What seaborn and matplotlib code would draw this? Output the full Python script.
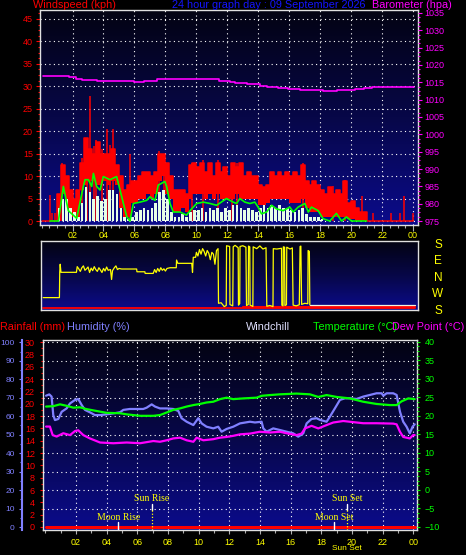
import numpy as np
import matplotlib
matplotlib.use("Agg")
import matplotlib.pyplot as plt
import matplotlib.transforms as mtransforms
from matplotlib.colors import LinearSegmentedColormap
from matplotlib.ticker import MultipleLocator
import seaborn as sns

# ================================================================
# Time grid / tick labels
hour_ticks = [2, 4, 6, 8, 10, 12, 14, 16, 18, 20, 22, 24]
hour_labels = ["02", "04", "06", "08", "10", "12", "14", "16", "18", "20", "22", "00"]
slot_start = np.arange(0, 24, 0.25)  # 15 minute slots

# Wind gust band (kph), upper and lower edge per 15 minute slot
gust_hi = [
    0, 0, 0, 0, 6, 12.5, 10, 7,
    5, 7, 13, 18.5, 16, 15, 17.5, 15,
    15, 15, 16, 12.5, 10, 7, 8, 9,
    9, 10, 11, 11, 10, 11, 15, 15,
    13, 10, 7, 7, 7, 6, 12.5, 13,
    12, 13, 11, 13, 10, 13, 11, 12,
    10, 13, 12, 13, 10, 11, 10, 10,
    8, 7.5, 8, 11, 10, 11, 10, 11,
    10, 11, 10, 12.5, 9, 8, 9, 8,
    7, 6, 7.5, 6, 7, 6, 9, 4,
    4.5, 3, 2, 2, 0, 0, 0, 0,
    0, 0, 0, 0, 0, 0, 0, 0,
]
gust_lo = [
    0, 0, 0, 0, 0, 6, 3, 1,
    0.5, 1, 7, 8, 9, 9, 8, 8,
    9, 8, 9, 8, 3, 1, 1, 4,
    4, 5, 5, 6, 5, 6, 9, 10,
    6, 5, 2, 2, 3, 2, 5, 6,
    6, 6, 5, 6, 5, 6, 5, 5,
    5, 5, 6, 5, 5, 5, 5, 5,
    3.5, 3.5, 4, 5, 5, 5, 5, 5,
    4, 4, 4, 5, 3, 2, 2, 2,
    1, 1, 1, 1, 1, 1, 1, 0.5,
    0.5, 0, 0, 0, 0, 0, 0, 0,
    0, 0, 0, 0, 0, 0, 0, 0,
]
spike_hours = [0.55, 0.70, 0.85, 1.30, 2.60, 2.95, 3.16, 3.40, 3.55, 3.90, 4.20, 4.40, 4.62,
               5.70, 7.60, 7.90, 9.70, 10.40, 11.40, 12.30, 12.60, 16.90, 18.80, 19.60,
               20.71, 21.42, 22.60, 23.15, 23.40, 23.97]
spike_kph = [5.7, 1.7, 1.7, 13, 14, 18.4, 27.8, 16.6, 18, 16, 20.5, 17, 20.5,
             15, 15.5, 15, 13, 13.5, 13.5, 13, 13, 12.9, 7.7, 9.2,
             5.6, 1.7, 1.7, 1.7, 5.5, 1.7]

# Wind speed (kph) per 15 minute slot
speed_hi = [
    0, 0, 0, 0, 3, 5, 5, 3,
    2, 1, 4, 7.5, 6.5, 5, 5.5, 4.5,
    5, 7, 7, 6, 3, 1, 0.5, 1,
    2, 2.5, 3, 2.5, 3, 4, 6.5, 7,
    5, 2, 1, 1, 1.5, 1, 2, 2.5,
    2.5, 3, 2, 3, 2.5, 3, 2, 3,
    2.5, 3.5, 3.5, 3, 2.5, 3, 2.5, 2,
    3, 3.5, 3, 3.5, 3, 3.5, 3, 3,
    2.5, 2, 2.5, 3, 1.5, 1, 1, 1,
    0.5, 0, 0, 0, 0, 0, 0, 0,
    0, 0, 0, 0, 0, 0, 0, 0,
    0, 0, 0, 0, 0, 0, 0, 0,
]

# Average wind (kph)
avg_hours = [0.55, 1.09, 1.41, 1.73, 2.27, 2.70, 2.81, 3.02, 3.24, 3.35, 3.56, 3.78, 3.99,
             4.42, 4.85, 5.18, 5.50, 5.71, 5.93, 6.36, 6.79, 7.00, 7.33, 7.54, 7.97, 8.08,
             8.30, 8.51, 8.94, 9.37, 9.59, 10.02, 10.45, 10.88, 11.31, 11.95, 12.38, 12.60,
             12.81, 13.14, 13.46, 13.78, 13.99, 14.21, 14.54, 14.86, 15.18, 15.61, 16.04,
             16.26, 16.58, 17.01, 17.23, 17.44, 17.87, 18.19, 18.62, 19.05, 19.38, 19.70,
             20.02, 20.99]
avg_kph = [0, 0, 7.7, 2.3, 0.6, 7.7, 9.2, 9.2, 7.7, 10.6, 7.7, 6.9, 9.9,
           9.2, 9.9, 5.4, 1.0, 0, 3.9, 4.2, 4.6, 5.4, 4.6, 8.0, 8.8, 7.7,
           3.9, 2.0, 2.0, 1.3, 2.3, 3.9, 4.2, 3.9, 3.5, 5.0, 4.2, 3.9,
           5.0, 4.2, 3.9, 4.2, 3.1, 1.6, 2.0, 3.5, 2.7, 2.3, 3.1,
           2.0, 3.1, 3.9, 2.0, 3.1, 2.3, 0.5, 0, 1.7, 0, 0.9,
           0, 0]

# Barometer (hPa), value from each change point
baro_hours = [0.12, 1.76, 2.20, 2.62, 3.59, 5.96, 6.60, 7.46, 11.44, 12.20, 12.50, 13.27,
              14.13, 14.56, 15.30, 15.90, 16.71, 18.20, 19.07, 20.26, 20.80, 21.33, 22.08, 24.05]
baro_hpa = [1016.7, 1016.4, 1016.05, 1015.75, 1015.45, 1015.2, 1015.45, 1015.85, 1015.5,
            1015.1, 1014.8, 1014.5, 1014.05, 1013.55, 1013.25, 1012.95, 1012.7, 1012.5,
            1012.7, 1013.05, 1013.35, 1013.55, 1013.75, 1013.75]

# Wind direction (degrees)
dir_hours = [0.10, 1.15, 1.17, 1.20, 1.25, 2.25, 2.30, 2.40, 2.50, 2.60,
             2.70, 2.80, 2.90, 3.00, 3.10, 3.20, 3.30, 3.40, 3.50, 3.60,
             3.70, 3.80, 3.90, 4.00, 4.10, 4.20, 4.30, 4.45, 4.52, 4.58,
             4.70, 4.80, 4.90, 5.00, 5.17, 6.14, 6.16, 6.67, 6.69, 7.21,
             7.30, 7.40, 7.50, 7.60, 7.70, 7.80, 7.90, 8.00, 8.10, 8.30,
             8.70, 8.72, 8.80, 9.70, 9.75, 9.80, 9.95, 10.00, 10.10, 10.20,
             10.30, 10.40, 10.50, 10.60, 10.70, 10.80, 10.90, 11.00, 11.10, 11.20,
             11.30, 11.40, 11.43, 11.60, 11.80, 11.93, 11.95, 12.15, 12.17, 12.35,
             12.38, 12.50, 12.70, 12.72, 12.80, 12.82, 13.00, 13.20, 13.24, 13.35,
             13.37, 13.45, 13.47, 13.65, 13.67, 13.90, 14.10, 14.30, 14.50, 14.55,
             14.75, 14.95, 14.97, 15.20, 15.50, 15.52, 15.60, 15.62, 15.70, 15.72,
             15.82, 15.84, 16.05, 16.20, 16.25, 16.45, 16.65, 16.70, 16.75, 16.80,
             17.00, 17.20, 17.22, 17.30, 17.33]
dir_deg = [253, 253, 31, 75, 31, 31, 62, 50, 36, 56,
           66, 42, 50, 60, 30, 54, 40, 62, 46, 36,
           56, 44, 30, 52, 38, 60, 42, 46, 352, 40,
           56, 66, 46, 52, 49, 49, 34, 34, 25, 25,
           46, 30, 52, 36, 56, 42, 50, 38, 52, 56,
           56, 98, 80, 80, 31, 113, 113, 140, 120, 155,
           130, 160, 145, 120, 150, 135, 100, 140, 130, 75,
           150, 160, 222, 225, 204, 210, 176, 172, 215, 208,
           170, 178, 165, 212, 220, 172, 176, 168, 210, 215,
           174, 170, 212, 205, 170, 160, 175, 158, 165, 206,
           210, 204, 160, 158, 162, 212, 208, 170, 168, 210,
           214, 168, 158, 164, 212, 208, 214, 172, 174, 216,
           222, 220, 150, 145, 213]
calm_hours = [17.33, 24.10]
calm_deg = [213, 213]
flag_hours = [0.10, 24.10]
flag_level = [17, 17]
flag2_hours = [13.0, 24.10]
flag2_level = [22, 22]
compass_labels = ["S", "W", "N", "E", "S"]
compass_pos = [0, 90, 180, 270, 360]

# Lower panel
rain_hours = [0.05, 24.10]
rain_mm = [0, 0]

hum_hours = [0.05, 0.26, 0.41, 0.52, 0.63, 0.85, 1.07, 1.39, 1.61, 1.94,
             2.15, 2.37, 2.59, 2.91, 3.24, 3.57, 4.00, 4.44, 4.87, 5.09,
             5.52, 6.39, 6.61, 6.94, 7.16, 7.48, 7.92, 8.35, 8.68, 8.89,
             9.22, 9.44, 9.66, 9.98, 10.20, 10.52, 10.96, 11.28, 11.50, 11.83,
             12.26, 12.48, 12.70, 13.35, 13.68, 14.11, 14.22, 14.44, 14.87, 15.31,
             15.74, 16.18, 16.50, 16.83, 17.05, 17.37, 17.70, 17.92, 18.35, 18.57,
             18.89, 19.22, 19.55, 19.87, 20.30, 20.74, 21.18, 21.61, 21.94, 22.05,
             22.27, 22.70, 22.92, 23.14, 23.35, 23.57, 23.78, 23.96, 24.10]
hum_pct = [71.1, 71.8, 70.6, 60.6, 57.9, 58.5, 62.4, 64.2, 66.9, 68.8,
           69.3, 66.1, 63.4, 62.1, 60.6, 60.6, 61.0, 61.5, 62.1, 63.4,
           63.9, 63.9, 64.6, 66.4, 65.2, 64.2, 64.2, 63.9, 62.8, 58.9,
           57.0, 56.1, 55.2, 58.9, 56.1, 54.3, 53.4, 54.3, 51.6, 53.1,
           54.3, 55.2, 56.1, 57.0, 56.6, 57.0, 53.4, 51.6, 53.4, 52.5,
           51.6, 50.7, 48.9, 50.7, 56.1, 58.5, 58.9, 58.0, 57.0, 59.8,
           64.2, 68.8, 69.7, 69.7, 69.3, 70.6, 71.5, 72.4, 72.4, 71.1,
           72.4, 72.4, 71.5, 62.4, 57.0, 54.3, 50.7, 54.3, 55.6]

temp_hours = [0.05, 0.52, 0.96, 1.39, 1.83, 2.26, 2.70, 3.35, 4.00, 4.87,
              5.31, 6.18, 7.05, 7.48, 7.92, 8.35, 8.79, 9.22, 9.66, 10.09,
              10.52, 10.96, 11.39, 11.83, 12.26, 12.92, 13.79, 14.11, 14.66, 15.31,
              16.39, 17.26, 17.81, 18.35, 19.00, 19.87, 20.74, 21.61, 22.48, 22.92,
              23.24, 23.68, 24.10]
temp_c = [22.5, 22.6, 23.1, 22.7, 22.2, 22.3, 21.8, 21.3, 20.8, 20.7,
          20.4, 20.0, 20.0, 20.2, 20.9, 21.6, 22.0, 22.5, 22.9, 23.2,
          23.6, 23.8, 24.5, 24.9, 24.5, 24.7, 24.9, 25.4, 25.6, 25.8,
          26.0, 25.8, 25.1, 25.6, 25.1, 24.7, 23.8, 23.2, 22.9, 22.9,
          23.9, 24.7, 24.5]

dew_hours = [0.05, 0.30, 0.48, 0.74, 1.17, 1.61, 1.94, 2.15, 2.48, 2.91,
             3.57, 4.44, 5.31, 6.18, 7.05, 7.48, 7.92, 8.35, 8.79, 9.22,
             9.66, 9.87, 10.31, 10.96, 11.39, 11.83, 12.26, 12.70, 13.35, 14.00,
             14.66, 15.31, 15.85, 16.39, 16.72, 16.94, 17.37, 17.81, 18.35, 18.79,
             19.44, 19.87, 20.74, 21.61, 22.70, 22.92, 23.14, 23.35, 23.78, 24.00, 24.10]
dew_c = [17.1, 17.1, 14.8, 14.4, 15.3, 14.8, 15.9, 16.1, 14.8, 13.9,
         12.8, 12.6, 12.8, 12.6, 13.2, 13.0, 13.4, 13.9, 14.1, 13.4,
         13.0, 14.1, 13.4, 13.7, 14.1, 14.3, 14.6, 15.0, 15.2, 15.7,
         15.5, 15.7, 15.2, 14.8, 15.2, 16.6, 17.3, 16.6, 17.5, 18.2,
         18.6, 18.4, 18.0, 18.0, 17.9, 17.7, 15.7, 14.3, 13.9, 14.8, 14.8]

event_names = ["Moon Rise", "Sun Rise", "Moon Set", "Sun Set"]
event_hours = [4.76, 6.94, 18.85, 19.70]
event_kind = ["moon", "sun", "moon", "sun"]
# ================================================================

sns.set_theme(style="ticks", rc={"figure.facecolor": "black", "axes.facecolor": "black"})
plt.rcParams["font.family"] = ["Liberation Sans", "DejaVu Sans"]

RED = "#ff0000"
MAG = "#ff00ff"
GREEN = "#00ff00"
YELLOW = "#ffff00"
HUM = "#8080ff"
PALE = "#e6ffe6"
SPINE = "#e0e0e0"
TICK = "#b0b0b0"
DOTS = (0, (1, 3))
bg = LinearSegmentedColormap.from_list("bg", ["#0b0b8c", "#070748", "#030312"])

W, H = 466, 555


def box(x0, y0, x1, y1):
    return [x0 / W, 1 - y1 / H, (x1 - x0) / W, (y1 - y0) / H]


def gradient(ax):
    ax.imshow(np.linspace(0, 1, 256).reshape(-1, 1), cmap=bg, aspect="auto",
              extent=(0, 1, 0, 1), transform=ax.transAxes, origin="lower", zorder=0)


def frame(ax):
    for s in ax.spines.values():
        s.set_visible(True)
        s.set_color(SPINE)
        s.set_linewidth(1.0)


def hide_spines(ax):
    for s in ax.spines.values():
        s.set_visible(False)


line_kw = dict(estimator=None, sort=False, legend=False)

fig = plt.figure(figsize=(4.66, 5.55), dpi=100, facecolor="black")
ax_w = fig.add_axes(box(40, 10, 418, 225))
ax_d = fig.add_axes(box(41, 241, 418, 310))
ax_b = fig.add_axes(box(42.7, 340, 416.7, 530))

# ---------------- wind panel ----------------
gradient(ax_w)
edges = np.append(slot_start, 24.0)
hi = np.append(gust_hi, gust_hi[-1])
lo = np.append(gust_lo, gust_lo[-1])
ax_w.fill_between(edges, lo, hi, step="post", color=RED, lw=0, zorder=2)
sns.lineplot(x=edges, y=hi, ax=ax_w, color=RED, lw=1.1, drawstyle="steps-post", zorder=2, **line_kw)
ax_w.vlines(spike_hours, 0, spike_kph, color=RED, lw=1.1, zorder=2)
ax_w.bar(slot_start + 0.04, speed_hi, width=0.17, align="edge", color=PALE, lw=0, zorder=3)
sns.lineplot(x=avg_hours, y=avg_kph, ax=ax_w, color=GREEN, lw=1.2, zorder=4, **line_kw)

ax_w.set_xlim(-0.10, 24.32)
ax_w.set_ylim(-0.89, 47.0)
ax_w.set_xticks(hour_ticks, labels=hour_labels)
ax_w.xaxis.set_minor_locator(MultipleLocator(0.5))
ax_w.set_yticks(range(0, 50, 5))
ax_w.yaxis.set_minor_locator(MultipleLocator(1.25))
ax_w.tick_params(axis="x", which="both", colors=TICK, labelcolor=YELLOW, labelsize=6.5,
                 pad=0.5, bottom=True, top=False, width=0.8)
ax_w.tick_params(axis="x", which="major", length=4)
ax_w.tick_params(axis="x", which="minor", length=2)
ax_w.tick_params(axis="y", which="both", colors=RED, labelsize=6.5, pad=2, left=True, right=False, width=0.8)
ax_w.tick_params(axis="y", which="major", length=3)
ax_w.tick_params(axis="y", which="minor", length=1.5)
ax_w.set_axisbelow(True)
ax_w.grid(True, which="major", color="white", linestyle=DOTS, lw=0.8)
ax_w.set_xlabel("")
ax_w.set_ylabel("")
frame(ax_w)

ax_p = ax_w.twinx()
sns.lineplot(x=baro_hours, y=baro_hpa, ax=ax_p, color=MAG, lw=1.2, drawstyle="steps-post", **line_kw)
ax_p.set_ylim(973.85, 1035.86)
ax_p.set_yticks(range(975, 1036, 5))
ax_p.yaxis.set_minor_locator(MultipleLocator(1.25))
ax_p.tick_params(axis="y", which="both", colors=MAG, labelsize=6.5, pad=1.7, right=True, left=False, width=0.8)
ax_p.tick_params(axis="y", which="major", length=3)
ax_p.tick_params(axis="y", which="minor", length=1.5)
ax_p.set_ylabel("")
hide_spines(ax_p)

# ---------------- direction panel ----------------
gradient(ax_d)
dir_v = (np.array(dir_deg) + 180) % 360
calm_v = (np.array(calm_deg) + 180) % 360
sns.lineplot(x=flag_hours, y=flag_level, ax=ax_d, color=RED, lw=1.3, zorder=2, **line_kw)
sns.lineplot(x=flag2_hours, y=flag2_level, ax=ax_d, color=RED, lw=1.5, zorder=2, **line_kw)
sns.lineplot(x=dir_hours, y=dir_v, ax=ax_d, color=YELLOW, lw=0.9, zorder=3, **line_kw)
sns.lineplot(x=calm_hours, y=calm_v, ax=ax_d, color="#f4f4e0", lw=0.9, zorder=3, **line_kw)
ax_d.set_xlim(-0.04, 24.32)
ax_d.set_ylim(5.45, 381.8)
ax_d.set_xticks([])
ax_d.set_yticks([])
ax_d.set_xlabel("")
ax_d.set_ylabel("")
frame(ax_d)
tr_d = mtransforms.blended_transform_factory(ax_d.transAxes, ax_d.transData)
for lab, pos in zip(compass_labels, compass_pos):
    ax_d.text(1.053, pos, lab, transform=tr_d, color=YELLOW, fontsize=8.5,
              ha="center", va="center", clip_on=False)

# ---------------- lower panel ----------------
gradient(ax_b)
sns.lineplot(x=rain_hours, y=rain_mm, ax=ax_b, color=RED, lw=2.2, zorder=2, **line_kw)
ax_b.set_xlim(-0.17, 24.23)
ax_b.set_ylim(-0.49, 30.37)
ax_b.set_xticks(hour_ticks, labels=hour_labels)
ax_b.xaxis.set_minor_locator(MultipleLocator(1))
ax_b.set_yticks(range(0, 31, 2))
ax_b.yaxis.set_minor_locator(MultipleLocator(1))
ax_b.tick_params(axis="x", which="both", colors=TICK, labelcolor=YELLOW, labelsize=6.5,
                 pad=2.5, bottom=True, top=False, width=0.8)
ax_b.tick_params(axis="x", which="major", length=3)
ax_b.tick_params(axis="x", which="minor", length=2)
ax_b.tick_params(axis="y", which="both", colors=RED, labelsize=6.5, pad=3, left=True, right=False, width=0.8)
ax_b.tick_params(axis="y", which="major", length=2.5)
ax_b.tick_params(axis="y", which="minor", length=1.2)
ax_b.set_axisbelow(True)
ax_b.grid(True, axis="x", which="major", color="white", linestyle=DOTS, lw=0.8)
ax_b.set_xlabel("")
ax_b.set_ylabel("")
frame(ax_b)

tr_ev = mtransforms.blended_transform_factory(ax_b.transData, ax_b.transAxes)
serif = ["Liberation Serif", "DejaVu Serif"]
for name, hr, kind in zip(event_names, event_hours, event_kind):
    if kind == "sun":
        ax_b.axvline(hr, 0.105, 0.137, color="white", lw=1.0, zorder=3)
        ax_b.axvline(hr, 0.0, 0.105, color=YELLOW, lw=0.9, linestyle=(0, (1, 1.5)), zorder=3)
        ax_b.text(hr, 0.168, name, transform=tr_ev, color=YELLOW, fontsize=7, family=serif,
                  ha="center", va="center")
    else:
        ax_b.axvline(hr, 0.0, 0.042, color="white", lw=1.0, zorder=3)
        ax_b.text(hr, 0.068, name, transform=tr_ev, color=YELLOW, fontsize=7, family=serif,
                  ha="center", va="center")
# second "Sun Set" tag sits just under the hour labels
ax_b.text(event_hours[3], -0.1, event_names[3], transform=tr_ev, color=YELLOW, fontsize=6,
          ha="center", va="center", clip_on=False)

ax_h = ax_b.twinx()
sns.lineplot(x=hum_hours, y=hum_pct, ax=ax_h, color=HUM, lw=1.6, **line_kw)
ax_h.set_ylim(-1.62, 101.25)
ax_h.yaxis.tick_left()
ax_h.set_yticks(range(0, 101, 10))
ax_h.yaxis.set_minor_locator(MultipleLocator(5))
hide_spines(ax_h)
ax_h.spines["left"].set_visible(True)
ax_h.spines["left"].set_position(("axes", -0.0561))
ax_h.spines["left"].set_color(HUM)
ax_h.spines["left"].set_linewidth(1.5)
ax_h.tick_params(axis="y", which="both", colors=HUM, labelsize=6, pad=2.5, left=True, right=False, width=0.8)
ax_h.tick_params(axis="y", which="major", length=2.5)
ax_h.tick_params(axis="y", which="minor", length=1.2)
ax_h.set_axisbelow(True)
ax_h.grid(True, axis="y", which="major", color="white", linestyle=DOTS, lw=0.8)
ax_h.get_ygridlines()[0].set_visible(False)
ax_h.set_ylabel("")

ax_t = ax_b.twinx()
sns.lineplot(x=temp_hours, y=temp_c, ax=ax_t, color=GREEN, lw=1.6, **line_kw)
sns.lineplot(x=dew_hours, y=dew_c, ax=ax_t, color=MAG, lw=1.6, **line_kw)
ax_t.set_ylim(-10.81, 40.46)
ax_t.set_yticks(range(-10, 41, 5))
ax_t.yaxis.set_minor_locator(MultipleLocator(1.25))
hide_spines(ax_t)
ax_t.tick_params(axis="y", which="both", colors=GREEN, labelsize=6.5, pad=3, right=True, left=False, width=0.8)
ax_t.tick_params(axis="y", which="major", length=2.5)
ax_t.tick_params(axis="y", which="minor", length=1.2)
ax_t.set_ylabel("")

# ---------------- header texts ----------------
ty = 1 - 5.5 / H
fig.text(33 / W, ty, "Windspeed (kph)", color=RED, fontsize=7.8, ha="left", va="center")
fig.text(172 / W, ty, "24 hour graph day : 09 September 2026", color="#1414ff", fontsize=7.8,
         ha="left", va="center")
fig.text(372 / W, ty, "Barometer (hpa)", color=MAG, fontsize=7.8, ha="left", va="center")

ly = 1 - 326.5 / H
fig.text(0.5 / W, ly, "Rainfall (mm)", color=RED, fontsize=7.8, ha="left", va="center")
fig.text(67 / W, ly, "Humidity (%)", color=HUM, fontsize=7.8, ha="left", va="center")
fig.text(246 / W, ly, "Windchill", color="#e0e0ff", fontsize=7.8, ha="left", va="center")
fig.text(313 / W, ly, "Temperature (°C)", color=GREEN, fontsize=7.8, ha="left", va="center")
fig.text(392 / W, ly, "Dew Point (°C)", color=MAG, fontsize=7.8, ha="left", va="center")

fig.savefig("out.png", dpi=100, facecolor="black")
